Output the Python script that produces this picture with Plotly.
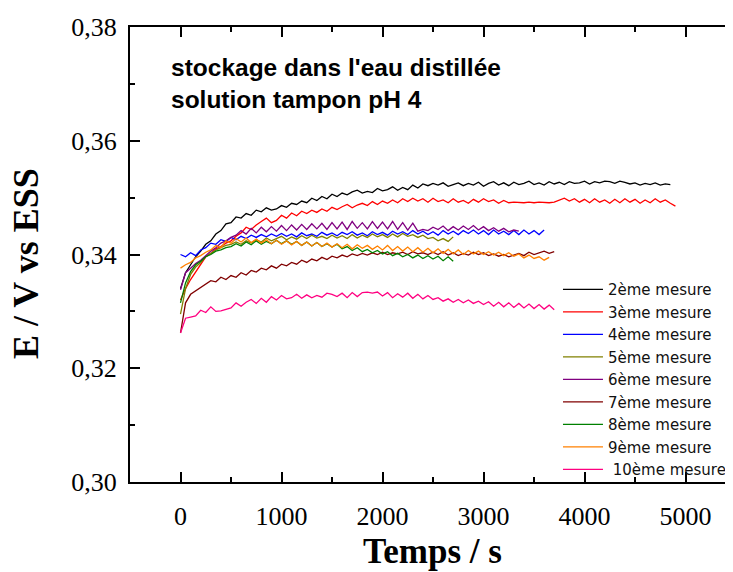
import plotly.graph_objects as go

# ---- data (potential in mV, sampled every 50 s) ----
dt_s = 50
series_names = ["2ème mesure", "3ème mesure", "4ème mesure", "5ème mesure", "6ème mesure",
                "7ème mesure", "8ème mesure", "9ème mesure", "\u00a010ème mesure"]
series_colors = ["#000000", "#FF0000", "#0000FF", "#808000", "#800080",
                 "#800000", "#008000", "#FF8000", "#FF0080"]

mesure2 = [334.0, 336.8, 338.2, 339.6, 340.6, 341.8, 342.4, 343.6, 344.2, 345.4,
           345.6, 346.6, 346.4, 347.2, 346.9, 347.8, 347.5, 348.2, 347.8, 348.0,
           348.6, 348.3, 349.0, 348.8, 349.4, 349.1, 349.9, 349.5, 350.2, 349.8,
           350.6, 350.2, 350.8, 350.5, 351.0, 351.3, 350.8, 351.1, 350.9, 351.6,
           351.2, 351.4, 351.9, 351.3, 351.8, 351.4, 352.2, 351.7, 352.4, 352.1,
           352.5, 352.2, 352.6, 352.0, 352.3, 352.6, 352.1, 352.5, 352.2, 352.7,
           352.0, 352.5, 352.8, 352.2, 352.6, 352.1, 352.7, 352.3, 352.5, 352.9,
           352.3, 352.6, 352.2, 352.8, 352.4, 352.7, 352.3, 352.8, 352.5, 352.6,
           352.9, 352.4, 352.8, 352.6, 352.9, 352.8, 352.5, 352.9, 352.7, 352.4,
           352.6, 352.2, 352.5, 352.3, 352.6, 352.2, 352.4, 352.3]
mesure3 = [332.0, 334.0, 335.6, 337.0, 338.4, 339.6, 340.2, 341.0, 341.4, 342.0,
           342.4, 343.2, 343.8, 344.8, 344.4, 345.2, 345.8, 346.4, 345.6, 346.0,
           346.9, 346.4, 347.3, 346.8, 347.6, 347.2, 347.8, 347.4, 348.0, 347.6,
           348.3, 347.9, 348.4, 348.8, 348.2, 348.7, 349.0, 348.6, 349.3, 348.8,
           349.4, 349.0, 349.6, 349.1, 349.8, 349.3, 349.9, 349.4, 349.8, 349.2,
           349.9, 349.3, 349.6, 349.1, 349.8, 349.2, 349.5, 349.0, 349.7, 349.2,
           349.8, 349.3, 349.6, 349.0, 349.5, 349.1, 349.2, 349.1, 349.1, 349.2,
           349.1, 349.2, 349.1, 349.1, 349.2, 349.6, 349.9, 349.4, 349.8, 349.2,
           349.7, 349.1, 349.8, 349.2, 349.6, 349.0, 349.7, 349.1, 349.8, 349.2,
           349.7, 349.0, 349.6, 349.1, 349.8, 349.2, 349.6, 349.0, 348.5]
mesure4 = [340.0, 339.6, 340.3, 339.8, 340.8, 341.2, 342.0, 341.8, 342.6, 342.3,
           343.0, 342.6, 343.2, 342.8, 343.4, 343.0, 343.5, 343.1, 343.6, 343.2,
           343.7, 343.2, 343.6, 343.1, 343.8, 343.3, 343.6, 343.2, 343.9, 343.4,
           343.8, 343.3, 343.9, 343.5, 344.0, 343.4, 343.8, 343.3, 344.0, 343.5,
           343.9, 343.4, 344.1, 343.6, 344.0, 343.5, 344.2, 343.6, 344.1, 343.5,
           344.0, 343.4, 344.2, 343.6, 344.1, 343.5, 344.2, 343.7, 344.3, 343.6,
           344.2, 343.5, 344.3, 343.6, 344.1, 343.5, 344.2, 343.5, 344.3, 343.6,
           344.2, 343.5, 344.3]
mesure5 = [329.5, 334.0, 336.5, 337.8, 338.6, 339.6, 340.2, 340.8, 341.2, 341.6,
           341.8, 342.2, 341.8, 342.4, 342.0, 342.6, 342.2, 342.9, 342.4, 342.8,
           343.2, 342.6, 343.1, 342.7, 343.3, 342.8, 343.4, 342.9, 343.2, 342.8,
           343.4, 342.9, 343.3, 342.8, 343.5, 342.9, 343.4, 343.0, 343.6, 343.1,
           343.5, 343.0, 343.6, 343.1, 343.7, 343.2, 343.5, 343.0, 343.4, 342.8,
           343.0, 342.4, 342.8, 342.3, 343.1]
mesure6 = [333.8, 336.8, 337.6, 338.4, 339.0, 339.8, 340.6, 341.2, 342.0, 342.4,
           343.0, 343.4, 344.2, 343.6, 344.6, 343.8, 344.8, 344.0, 344.9, 344.1,
           345.1, 344.2, 345.2, 344.3, 345.3, 344.4, 345.4, 344.5, 345.5, 344.4,
           345.6, 344.5, 345.7, 344.4, 345.8, 344.6, 345.6, 344.5, 345.8, 344.6,
           345.7, 344.5, 345.8, 344.4, 345.6, 344.3, 345.5, 344.1, 344.4, 344.2,
           344.8, 344.4, 345.0, 344.2, 344.9, 344.3, 345.0, 344.4, 345.1, 344.3,
           344.9, 344.2, 344.7, 344.1, 344.6, 344.0, 344.3, 344.1]
mesure7 = [326.2, 331.5, 333.0, 333.6, 334.3, 334.8, 335.4, 335.2, 336.0, 335.6,
           336.3, 336.0, 336.8, 336.4, 337.2, 336.9, 337.6, 337.3, 338.0, 337.6,
           338.3, 338.0, 338.6, 338.3, 339.0, 338.6, 339.2, 338.9, 339.5, 339.1,
           339.7, 339.4, 339.9, 339.6, 340.1, 339.8, 340.2, 339.9, 340.3, 340.0,
           340.4, 340.0, 340.3, 340.1, 340.4, 340.0, 340.5, 340.1, 340.3, 340.0,
           340.4, 340.0, 340.5, 339.9, 340.3, 339.8, 340.2, 339.9, 340.4, 340.0,
           340.3, 339.8, 340.1, 339.7, 340.0, 339.6, 339.9, 340.2, 339.8, 340.4,
           340.0, 340.3, 340.6, 340.2, 340.5]
mesure8 = [331.5, 335.0, 337.0, 338.2, 338.8, 339.6, 340.0, 340.6, 340.8, 341.2,
           341.4, 341.9, 341.5, 342.2, 341.7, 342.4, 341.8, 342.3, 341.9, 342.5,
           341.9, 342.4, 341.8, 342.3, 341.6, 342.2, 341.5, 342.1, 341.4, 341.9,
           341.3, 341.8, 341.0, 341.4, 340.7, 341.2, 340.5, 340.9, 340.3, 340.7,
           340.1, 340.5, 339.8, 340.2, 339.6, 340.0, 339.4, 339.9, 339.3, 339.8,
           339.2, 339.7, 338.9, 339.6, 338.8]
mesure9 = [337.6, 338.2, 338.6, 339.4, 339.8, 340.4, 340.8, 341.6, 341.2, 342.4,
           342.0, 342.8, 342.2, 342.9, 342.1, 342.7, 342.0, 342.6, 341.9, 342.5,
           341.8, 342.4, 341.7, 342.3, 341.6, 342.2, 341.5, 342.1, 341.4, 342.0,
           341.3, 341.9, 341.2, 341.8, 341.0, 341.7, 341.1, 341.6, 340.9, 341.5,
           340.8, 341.6, 340.7, 341.4, 340.6, 341.3, 340.5, 341.2, 340.4, 341.1,
           340.3, 341.0, 340.2, 340.9, 340.1, 340.8, 340.0, 340.7, 340.1, 340.6,
           340.0, 340.5, 339.9, 340.4, 339.8, 340.3, 339.7, 340.1, 339.4, 339.9,
           339.3, 339.6, 339.0, 339.5]
mesure10 = [326.2, 328.8, 329.0, 329.2, 330.2, 329.8, 330.8, 330.0, 330.1, 330.3,
            330.6, 331.5, 330.9, 331.6, 332.1, 331.4, 332.3, 331.6, 332.6, 332.0,
            332.8, 332.2, 332.4, 333.0, 332.3, 332.9, 332.4, 332.8, 332.5, 333.2,
            333.0, 332.6, 333.2, 332.4, 333.3, 332.6, 333.3, 333.4, 333.2, 333.4,
            332.7, 333.3, 332.4, 333.1, 332.5, 333.2, 332.3, 333.0, 332.2, 332.8,
            332.1, 332.4, 331.8, 332.2, 331.6, 332.1, 331.5, 332.0, 331.4, 331.8,
            331.2, 331.7, 330.9, 331.6, 330.8, 331.5, 330.7, 331.4, 330.6, 331.3,
            330.5, 331.2, 330.4, 331.1, 330.3]

all_series = [mesure2, mesure3, mesure4, mesure5, mesure6, mesure7, mesure8, mesure9, mesure10]

x_tickvals = [0, 1000, 2000, 3000, 4000, 5000]
x_ticktext = ["0", "1000", "2000", "3000", "4000", "5000"]
y_tickvals = [0.30, 0.32, 0.34, 0.36, 0.38]
y_ticktext = ["0,30", "0,32", "0,34", "0,36", "0,38"]

fig = go.Figure()
for name, color, vals in zip(series_names, series_colors, all_series):
    fig.add_trace(go.Scatter(
        x=[i * dt_s for i in range(len(vals))],
        y=[v / 1000 for v in vals],
        mode="lines", name=name,
        line=dict(color=color, width=1.3),
    ))

serif = "Liberation Serif, Times New Roman, serif"
sans = "Liberation Sans, Arial, sans-serif"

fig.update_layout(
    width=733, height=572,
    margin=dict(l=122, r=6, t=19, b=98),
    paper_bgcolor="white", plot_bgcolor="white",
    showlegend=True,
    legend=dict(
        x=0.7074, y=0.459, xanchor="left", yanchor="top",
        bgcolor="rgba(0,0,0,0)", borderwidth=0,
        font=dict(family="DejaVu Sans, sans-serif", size=15, color="#111"),
        itemwidth=40, tracegroupgap=0,
    ),
    xaxis=dict(
        range=[-500, 5490],
        tickmode="array", tickvals=x_tickvals, ticktext=x_ticktext,
        ticks="inside", ticklen=10, tickwidth=1.5, tickcolor="black",
        minor=dict(tickmode="linear", tick0=-500, dtick=500, ticks="inside",
                   ticklen=5, tickwidth=1.5, tickcolor="black"),
        showline=True, linewidth=2, linecolor="black", mirror="ticks",
        showgrid=False, zeroline=False,
        tickfont=dict(family=serif, size=26, color="black"),
        ticklabelstandoff=10,
        title=dict(text="<b>Temps / s</b>", font=dict(family=serif, size=35, color="black"),
                   standoff=8),
    ),
    yaxis=dict(
        range=[0.30, 0.38],
        tickmode="array", tickvals=y_tickvals, ticktext=y_ticktext,
        ticks="inside", ticklen=10, tickwidth=1.5, tickcolor="black",
        minor=dict(tickmode="linear", tick0=0.30, dtick=0.01, ticks="inside",
                   ticklen=5, tickwidth=1.5, tickcolor="black"),
        showline=True, linewidth=2, linecolor="black", mirror=False,
        showgrid=False, zeroline=False,
        tickfont=dict(family=serif, size=26, color="black"),
        ticklabelstandoff=6,
    ),
    annotations=[
        dict(
            xref="paper", yref="paper", x=0.0645, y=0.945, xanchor="left", yanchor="top",
            align="left", showarrow=False,
            text="<b>stockage dans l'eau distillée<br>solution tampon pH 4</b>",
            font=dict(family=sans, size=24.5, color="black"),
        ),
        dict(
            xref="paper", yref="paper", x=-0.1719, y=0.479, xanchor="center", yanchor="middle",
            textangle=-90, showarrow=False,
            text="<b>E / V vs ESS</b>",
            font=dict(family=serif, size=36, color="black"),
        ),
    ],
)

fig.write_html("out.html")
